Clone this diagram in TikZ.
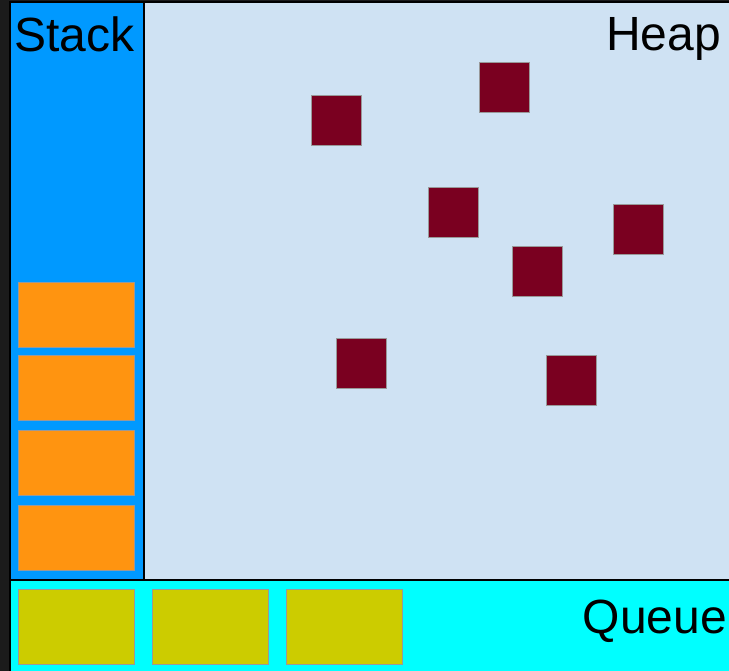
\documentclass[tikz,border=0pt]{standalone}
\usepackage{fontspec}
\setmainfont{Liberation Sans}
\usepackage{tikz}
\usetikzlibrary{positioning}

\definecolor{darkbg}{HTML}{1B1B1B}
\definecolor{stackblue}{HTML}{0099FF}
\definecolor{heapblue}{HTML}{CFE2F3}
\definecolor{queuecyan}{HTML}{00FFFF}
\definecolor{frameorange}{HTML}{FF9410}
\definecolor{taskyellow}{HTML}{CCCC00}
\definecolor{objred}{HTML}{7A0020}

\tikzset{
  frame/.style={draw=gray!80, line width=0.8pt, anchor=north west, inner sep=0pt},
  stackframe/.style={frame, fill=frameorange, minimum width=116pt, minimum height=65pt},
  task/.style={frame, fill=taskyellow, minimum width=116pt, minimum height=75pt},
  object/.style={frame, fill=objred, minimum width=50pt, minimum height=50pt},
  title/.style={font=\fontsize{48}{52}\selectfont, inner sep=0pt}
}

\begin{document}
\begin{tikzpicture}[x=1pt,y=-1pt]
    \useasboundingbox (0,0) rectangle (729,671);
    \clip (0,0) rectangle (729,671);
    \fill[darkbg] (0,0) rectangle (729,671);
    % heap, stack and queue areas
    \draw[line width=2pt, fill=heapblue] (144,2) rectangle (735,580);
    \draw[line width=2pt, fill=stackblue] (10,2) rectangle (144,580);
    \draw[line width=2pt, fill=queuecyan] (10,580) rectangle (735,680);
    \node[title, anchor=north west] (stack) at (14,17) {Stack};
    \node[title, anchor=north east] (heap) at (721,17) {Heap};
    \node[title, anchor=north east] (queue) at (727,600) {Queue};
    % stack frames
    \node[stackframe] (frame1) at (18,282) {};
    \node[stackframe] (frame2) at (18,355) {};
    \node[stackframe] (frame3) at (18,430) {};
    \node[stackframe] (frame4) at (18,505) {};
    % queued tasks
    \foreach \i/\x in {1/18,2/152,3/286}
      \node[task] (task\i) at (\x,589) {};
    % heap objects
    \node[object] (obj1) at (311,95) {};
    \node[object] (obj2) at (479,62) {};
    \node[object] (obj3) at (428,187) {};
    \node[object] (obj4) at (613,204) {};
    \node[object] (obj5) at (512,246) {};
    \node[object] (obj6) at (336,338) {};
    \node[object] (obj7) at (546,355) {};
\end{tikzpicture}
\end{document}
